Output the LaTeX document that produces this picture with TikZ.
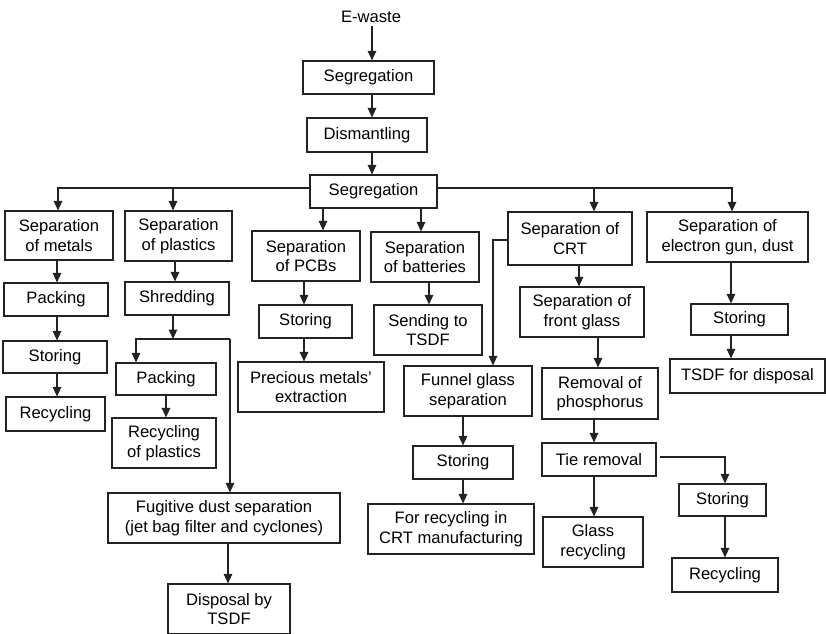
\documentclass[tikz,border=0pt]{standalone}
\usepackage{fontspec}
\setmainfont{Liberation Sans}
\usetikzlibrary{arrows.meta}
\definecolor{ink}{RGB}{35,35,35}
\newcommand\boxfont{\fontsize{16.6}{19.5}\selectfont}
\begin{document}
\begin{tikzpicture}[x=1pt,y=-1pt,
  bx/.style={draw=ink, line width=1.1pt, inner sep=0pt, align=center, font=\boxfont, text=black},
  wh/.style 2 args={minimum width=#1pt, minimum height=#2pt},
  ln/.style={draw=ink, line width=1.1pt},
  arr/.style={ln, -{Triangle[width=8.5pt,length=9.5pt]}}]
\useasboundingbox (0,0) rectangle (826,633);
% column coordinates
\foreach \n/\x in {57/57,173/173,175/175,136/136,230/230,166/166,228/228,304/304,323/323,421/421,429/429,
  372/372,493/493,579/579,594/594,598/598,463/463,725/725,731/731,732/732,58/58}
  {\coordinate (c\n) at (\x,0);}
\coordinate (h188) at (0,188);
\coordinate (h339) at (0,339);
\coordinate (h240) at (0,240);
\coordinate (h457) at (0,457);

\node[font=\boxfont, inner sep=0pt] (ew) at (371,17) {E-waste};
\node[bx, wh={131}{33}] (seg1) at (368.5,77.5) {Segregation};
\node[bx, wh={120}{34}] (dis) at (367,135) {Dismantling};
\node[bx, wh={127}{33}] (seg2) at (373.5,191.5) {Segregation};

\node[bx, wh={108}{49}] (metals) at (59,235.5) {Separation\\of metals};
\node[bx, wh={104}{33}] (packM) at (56,299.5) {Packing};
\node[bx, wh={104}{32}] (storM) at (55,357) {Storing};
\node[bx, wh={99}{34}] (recM) at (55.5,414) {Recycling};

\node[bx, wh={107}{50}] (plast) at (178.5,236) {Separation\\of plastics};
\node[bx, wh={104}{33}] (shred) at (177,298.5) {Shredding};
\node[bx, wh={100}{32}] (packP) at (166,379) {Packing};
\node[bx, wh={104}{50}] (recP) at (164,443) {Recycling\\of plastics};
\node[bx, wh={232}{50}] (fug) at (224,518) {Fugitive dust separation\\(jet bag filter and cyclones)};
\node[bx, wh={122}{50}] (disp) at (229,609) {Disposal by\\TSDF};

\node[bx, wh={108}{50}] (pcb) at (306,256) {Separation\\of PCBs};
\node[bx, wh={93}{33}] (storP) at (305.5,321.5) {Storing};
\node[bx, wh={146}{50}] (prec) at (311,387) {Precious metals'\\extraction};

\node[bx, wh={108}{50}] (bat) at (425,257) {Separation\\of batteries};
\node[bx, wh={108}{50}] (send) at (428,330) {Sending to\\TSDF};

\node[bx, wh={124}{53}] (crt) at (570,238.5) {Separation of\\CRT};
\node[bx, wh={124}{50}] (front) at (582,312) {Separation of\\front glass};
\node[bx, wh={116}{51}] (phos) at (600,393.5) {Removal of\\phosphorus};
\node[bx, wh={114}{33}] (tie) at (599,459.5) {Tie removal};
\node[bx, wh={100}{50}] (glass) at (593,542) {Glass\\recycling};
\node[bx, wh={87}{32}] (storR) at (722.5,500) {Storing};
\node[bx, wh={106}{34}] (recR) at (725,575) {Recycling};

\node[bx, wh={128}{50}] (funnel) at (468,391) {Funnel glass\\separation};
\node[bx, wh={100}{33}] (storF) at (463,462.5) {Storing};
\node[bx, wh={166}{50}] (forrec) at (451,529) {For recycling in\\CRT manufacturing};

\node[bx, wh={161}{50}] (gun) at (727.5,237) {Separation of\\electron gun, dust};
\node[bx, wh={97}{31}] (storG) at (739.5,319.5) {Storing};
\node[bx, wh={155}{34}] (tsdf) at (747.5,376) {TSDF for disposal};

% trunk
\draw[arr] (ew.south -| c372) ++(0,3) -- (seg1.north -| c372);
\draw[arr] (seg1.south -| c372) -- (dis.north -| c372);
\draw[arr] (dis.south -| c372) -- (seg2.north -| c372);

% main distribution line
\draw[arr] (seg2.west |- h188) -- (c58 |- h188) -- (metals.north -| c58);
\draw[arr] (c173 |- h188) -- (plast.north -| c173);
\draw[arr] (seg2.east |- h188) -- (c732 |- h188) -- (gun.north -| c732);
\draw[arr] (c594 |- h188) -- (crt.north -| c594);
\draw[arr] (seg2.south -| c323) -- (pcb.north -| c323);
\draw[arr] (seg2.south -| c421) -- (bat.north -| c421);

% metals
\draw[arr] (metals.south -| c57) -- (packM.north -| c57);
\draw[arr] (packM.south -| c57) -- (storM.north -| c57);
\draw[arr] (storM.south -| c57) -- (recM.north -| c57);

% plastics
\draw[arr] (plast.south -| c175) -- (shred.north -| c175);
\draw[arr] (shred.south -| c173) -- (c173 |- h339);
\draw[arr] (c230 |- h339) -- (c136 |- h339) -- (packP.north -| c136);
\draw[arr] (c230 |- h339) -- (fug.north -| c230);
\draw[arr] (packP.south -| c166) -- (recP.north -| c166);
\draw[arr] (fug.south -| c228) -- (disp.north -| c228);

% PCBs
\draw[arr] (pcb.south -| c304) -- (storP.north -| c304);
\draw[arr] (storP.south -| c304) -- (prec.north -| c304);

% batteries
\draw[arr] (bat.south -| c429) -- (send.north -| c429);

% CRT
\draw[arr] (crt.west |- h240) -- (c493 |- h240) -- (funnel.north -| c493);
\draw[arr] (crt.south -| c579) -- (front.north -| c579);
\draw[arr] (front.south -| c598) -- (phos.north -| c598);
\draw[arr] (phos.south -| c594) -- (tie.north -| c594);
\draw[arr] (tie.south -| c594) -- (glass.north -| c594);
\draw[arr, shorten <=3pt] (tie.east |- h457) -- (c725 |- h457) -- (storR.north -| c725);
\draw[arr] (storR.south -| c725) -- (recR.north -| c725);

% funnel
\draw[arr] (funnel.south -| c463) -- (storF.north -| c463);
\draw[arr] (storF.south -| c463) -- (forrec.north -| c463);

% electron gun
\draw[arr] (gun.south -| c731) -- (storG.north -| c731);
\draw[arr] (storG.south -| c731) -- (tsdf.north -| c731);
\end{tikzpicture}
\end{document}
